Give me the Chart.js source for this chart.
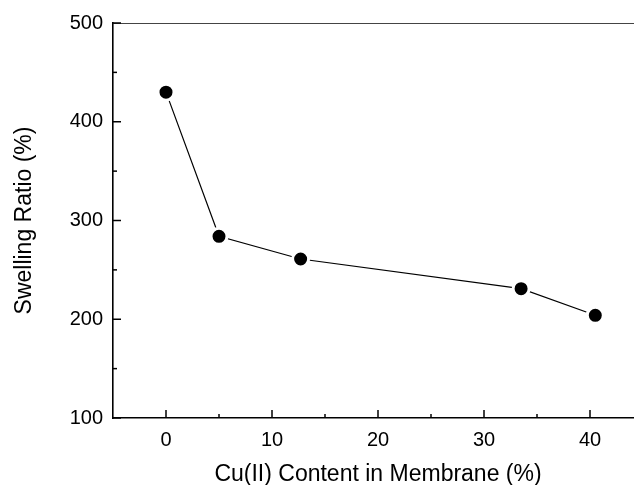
<!DOCTYPE html>
<html>
<head>
<meta charset="utf-8">
<script src="https://cdn.jsdelivr.net/npm/chart.js@4"></script>
<style>
html,body{margin:0;padding:0;background:#fff;overflow:hidden}
#wrap{width:660px;height:485px}
</style>
</head>
<body>
<div id="wrap"><canvas id="c" width="660" height="485"></canvas></div>
<script>
// values
const cuContent=[0,5,12.7,33.5,40.5];
const swellingRatio=[430,284,261,231,204];
const xTicks=[0,10,20,30,40];
const yTicks=[100,200,300,400,500];
const xRange=[-5,45],yRange=[100,500];

const FONT="'Liberation Sans', Arial, Helvetica, sans-serif";
const INK='#000';

// ticks point into the plot, minor ones halfway between majors
const innerTicks={
  id:'innerTicks',
  afterDatasetsDraw(chart){
    const {ctx,chartArea:a,scales:{x,y}}=chart;
    ctx.save();
    // top frame line
    ctx.beginPath();ctx.lineWidth=1;ctx.strokeStyle='#444';
    ctx.moveTo(a.left,a.top+0.5);ctx.lineTo(a.right,a.top+0.5);ctx.stroke();
    ctx.strokeStyle=INK;ctx.lineWidth=1.5;
    const tick=(px,len,horiz)=>{
      ctx.beginPath();
      if(horiz){ctx.moveTo(px,a.bottom);ctx.lineTo(px,a.bottom-len);}
      else{ctx.moveTo(a.left,px);ctx.lineTo(a.left+len,px);}
      ctx.stroke();
    };
    xTicks.forEach(v=>{
      tick(x.getPixelForValue(v),8,true);
      tick(x.getPixelForValue(v+(xTicks[1]-xTicks[0])/2),4,true);
    });
    yTicks.forEach((v,i)=>{
      tick(y.getPixelForValue(v),8,false);
      if(i<yTicks.length-1)tick(y.getPixelForValue(v+(yTicks[1]-yTicks[0])/2),4,false);
    });
    ctx.restore();
  }
};

new Chart(document.getElementById('c'),{
  type:'scatter',
  data:{datasets:[{
    data:cuContent.map((v,i)=>({x:v,y:swellingRatio[i]})),
    showLine:true,
    borderColor:INK,borderWidth:1.2,
    pointRadius:8,pointHoverRadius:8,
    pointBackgroundColor:'#000',pointBorderColor:'#fff',pointBorderWidth:3
  }]},
  options:{
    responsive:false,animation:false,
    layout:{padding:{top:23,right:17,left:0,bottom:0}},
    plugins:{legend:{display:false},tooltip:{enabled:false}},
    scales:{
      x:{
        type:'linear',min:xRange[0],max:xRange[1],
        afterBuildTicks:s=>{s.ticks=xTicks.map(v=>({value:v}));},
        afterFit:s=>{s.height=67;},
        grid:{display:false,drawTicks:false},
        border:{display:true,color:INK,width:1.6},
        ticks:{color:INK,padding:10,font:{family:FONT,size:20},maxRotation:0},
        title:{display:true,text:'Cu(II) Content in Membrane (%)',color:INK,
          font:{family:FONT,size:23,lineHeight:1},padding:{top:0,bottom:-1}}
      },
      y:{
        type:'linear',min:yRange[0],max:yRange[1],
        afterBuildTicks:s=>{s.ticks=yTicks.map(v=>({value:v}));},
        afterFit:s=>{s.width=113;},
        grid:{display:false,drawTicks:false},
        border:{display:true,color:INK,width:1.6},
        ticks:{color:INK,padding:10,font:{family:FONT,size:20}},
        title:{display:true,text:'Swelling Ratio (%)',color:INK,
          font:{family:FONT,size:23,lineHeight:1},padding:{top:13,bottom:0}}
      }
    }
  },
  plugins:[innerTicks]
});
</script>
</body>
</html>
